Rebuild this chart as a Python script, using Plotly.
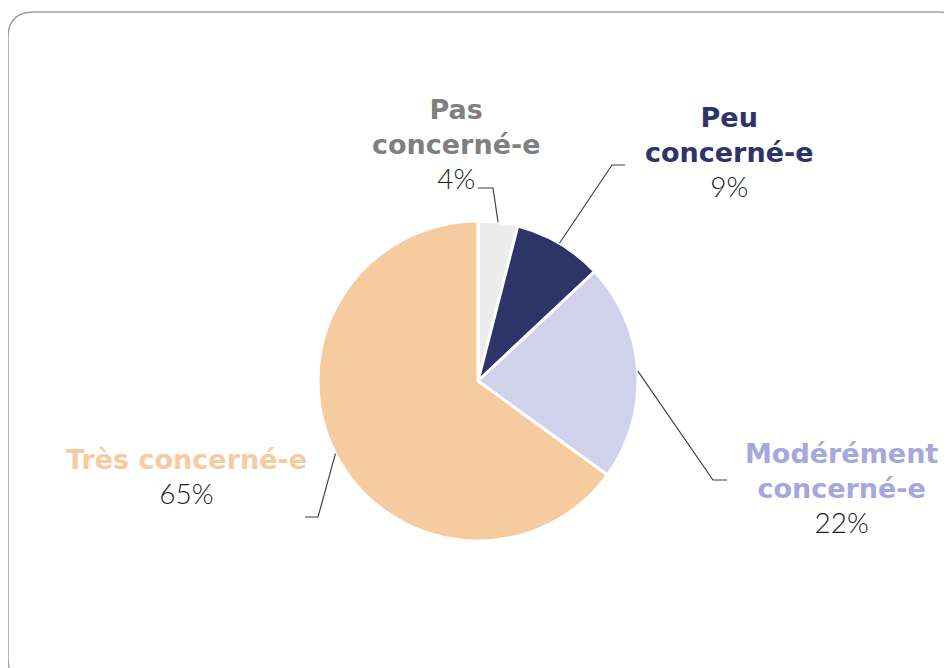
import math
import plotly.graph_objects as go

# ---- data ----
categories = ["Pas concerné-e", "Peu concerné-e", "Modérément concerné-e", "Très concerné-e"]
label_lines = ["Pas<br>concerné-e", "Peu<br>concerné-e", "Modérément<br>concerné-e", "Très concerné-e"]
values = [4, 9, 22, 65]

# ---- styles ----
slice_colors = ["#ececec", "#2e3468", "#d0d2ec", "#f6cb9f"]
label_colors = ["#7f7f7f", "#2e3468", "#a4a8dc", "#f6cb9f"]

W, H = 952, 668
OX, OY = 8, 8          # page body margin offset
CX, CY, R = 478, 381, 160

# label layout (pixel, page coords): elbow point, horizontal tail end, text centre x, text top y
label_layout = [
    dict(elbow=(493, 188), tail=(478, 188), tx=456, ty=92),
    dict(elbow=(612, 165), tail=(625, 165), tx=729, ty=100),
    dict(elbow=(713, 480), tail=(727, 480), tx=841, ty=436),
    dict(elbow=(318, 517), tail=(305, 517), tx=186, ty=442),
]

def px(x):
    return (x - OX) / W

def py(y):
    return 1 - (y - OY) / H

fig = go.Figure()
fig.add_trace(go.Pie(
    labels=categories,
    values=values,
    sort=False,
    direction="clockwise",
    rotation=0,
    marker=dict(colors=slice_colors, line=dict(color="white", width=3)),
    textinfo="none",
    hoverinfo="label+percent",
    showlegend=False,
    domain=dict(x=[px(CX - R), px(CX + R)], y=[py(CY + R), py(CY - R)]),
))

total = sum(values)
cum = 0
shapes = []
annotations = []
for i, v in enumerate(values):
    mid = (cum + v / 2) / total * 2 * math.pi
    cum += v
    sx = CX + R * math.sin(mid)
    sy = CY - R * math.cos(mid)
    lay = label_layout[i]
    ex, ey = lay["elbow"]
    tx_, ty_ = lay["tail"]
    shapes.append(dict(
        type="path", xref="paper", yref="paper",
        path=f"M {px(sx)},{py(sy)} L {px(ex)},{py(ey)} L {px(tx_)},{py(ty_)}",
        line=dict(color="#404040", width=1.2),
    ))
    pct = round(v / total * 100)
    text = (f"<b><span style='color:{label_colors[i]}'>{label_lines[i]}</span></b>"
            f"<br><span style='font-family:Lato;font-weight:300;font-size:28px;color:#222222'>{pct}%</span>")
    annotations.append(dict(
        x=px(lay["tx"]), y=py(lay["ty"]), xref="paper", yref="paper",
        xanchor="center", yanchor="top", showarrow=False, align="center",
        text=text, font=dict(family="DejaVu Sans", size=27, color="#222222"),
    ))

# rounded frame around the chart area
L, T, Rr, B, rad = 8, 12, 966, 684, 26
frame = (f"M {px(L + rad)},{py(T)} L {px(Rr - rad)},{py(T)} "
         f"Q {px(Rr)},{py(T)} {px(Rr)},{py(T + rad)} "
         f"L {px(Rr)},{py(B - rad)} Q {px(Rr)},{py(B)} {px(Rr - rad)},{py(B)} "
         f"L {px(L + rad)},{py(B)} Q {px(L)},{py(B)} {px(L)},{py(B - rad)} "
         f"L {px(L)},{py(T + rad)} Q {px(L)},{py(T)} {px(L + rad)},{py(T)} Z")
shapes.insert(0, dict(type="path", xref="paper", yref="paper", path=frame,
                      line=dict(color="#a0a0a0", width=1.5), layer="below"))

fig.update_layout(
    width=W, height=H,
    margin=dict(l=0, r=0, t=0, b=0),
    paper_bgcolor="white",
    plot_bgcolor="white",
    shapes=shapes,
    annotations=annotations,
)

fig.write_html("out.html")
